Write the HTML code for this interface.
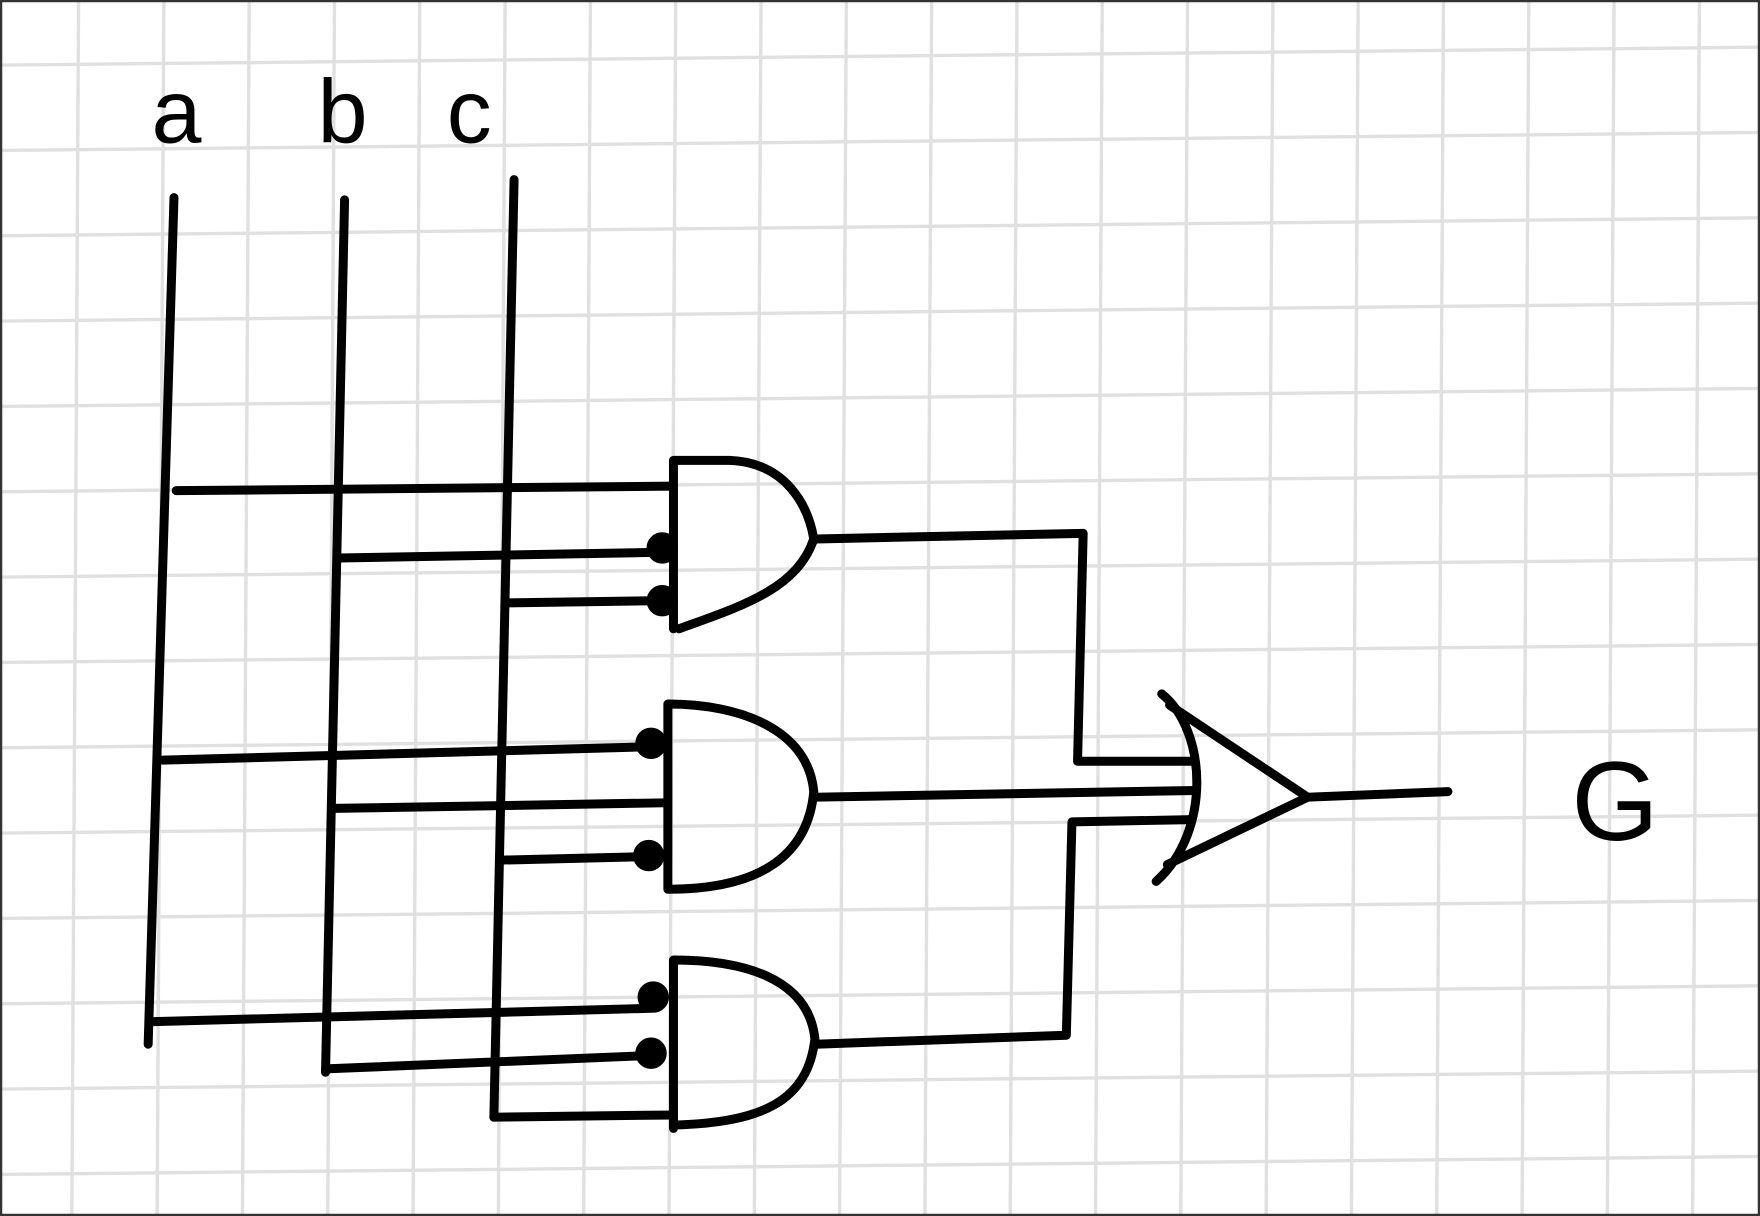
<!DOCTYPE html>
<html><head><meta charset="utf-8"><style>
html,body{margin:0;padding:0;background:#fff;}
svg{display:block;}
text{font-family:"Liberation Sans",sans-serif;}
</style></head><body>
<svg width="1760" height="1216" viewBox="0 0 1568 1083" preserveAspectRatio="none" xmlns="http://www.w3.org/2000/svg">
<rect x="0" y="0" width="1568" height="1083" fill="#fff"/>
<g stroke="#e0e0e0" stroke-width="3" id="grid"></g>
<rect x="1" y="1" width="1566" height="1081" fill="none" stroke="#333" stroke-width="2"/>
<g fill="none" stroke="#000" stroke-width="8" stroke-linecap="round" stroke-linejoin="round">
  <path d="M155 176 L132 930"/>
  <path d="M307 178 L290 955"/>
  <path d="M458 160 L440 995"/>
  <path d="M600 560 L600 410 L650 410 C700 412 720 450 725 480 C710 525 660 540 605 560"/>
  <path d="M157 437 L600 433"/>
  <path d="M302 497 L582 492"/>
  <path d="M450 537 L582 535"/>
  <path d="M727 480 L965 475 L960 678 L1062 678"/>
  <path d="M595 792 L595 627 C660 627 720 650 725 705 C720 760 680 792 595 792"/>
  <path d="M145 677 L580 665"/>
  <path d="M298 720 L592 715"/>
  <path d="M448 766 L575 763"/>
  <path d="M727 710 L1065 704"/>
  <path d="M600 1005 L600 855 C660 855 720 870 726 925 C720 980 680 1000 600 1002"/>
  <path d="M133 910 L580 898"/>
  <path d="M290 952 L580 940"/>
  <path d="M440 995 L600 993"/>
  <path d="M727 930 L950 922 L955 732 L1062 730"/>
  <path d="M1035 618 C1075 650 1080 740 1030 785 M1042 628 L1165 710 L1040 770"/>
  <path d="M1165 710 L1290 705"/>
</g>
<g fill="#000">
  <circle cx="590" cy="488" r="14"/><circle cx="590" cy="535" r="14"/>
  <circle cx="580" cy="662" r="14"/><circle cx="578" cy="762" r="14"/>
  <circle cx="582" cy="888" r="14"/><circle cx="580" cy="938" r="14"/>
</g>
<text x="135" y="127" font-size="80">a</text>
<text x="283" y="127" font-size="80">b</text>
<text x="398" y="127" font-size="80">c</text>
<text x="1400" y="748" font-size="100">G</text>
<script>
var g=document.getElementById('grid');
for(var x=70;x<1568;x+=76){var l=document.createElementNS('http://www.w3.org/2000/svg','line');


l.setAttribute('x1',x);l.setAttribute('y1',0);l.setAttribute('x2',x-6);l.setAttribute('y2',1083);g.appendChild(l);}
for(var y=50;y<1083;y+=76){var m=document.createElementNS('http://www.w3.org/2000/svg','line');


m.setAttribute('x1',0);m.setAttribute('y1',y+8);m.setAttribute('x2',1568);m.setAttribute('y2',y-8);g.appendChild(m);}
</script>
</svg>
</body></html>
